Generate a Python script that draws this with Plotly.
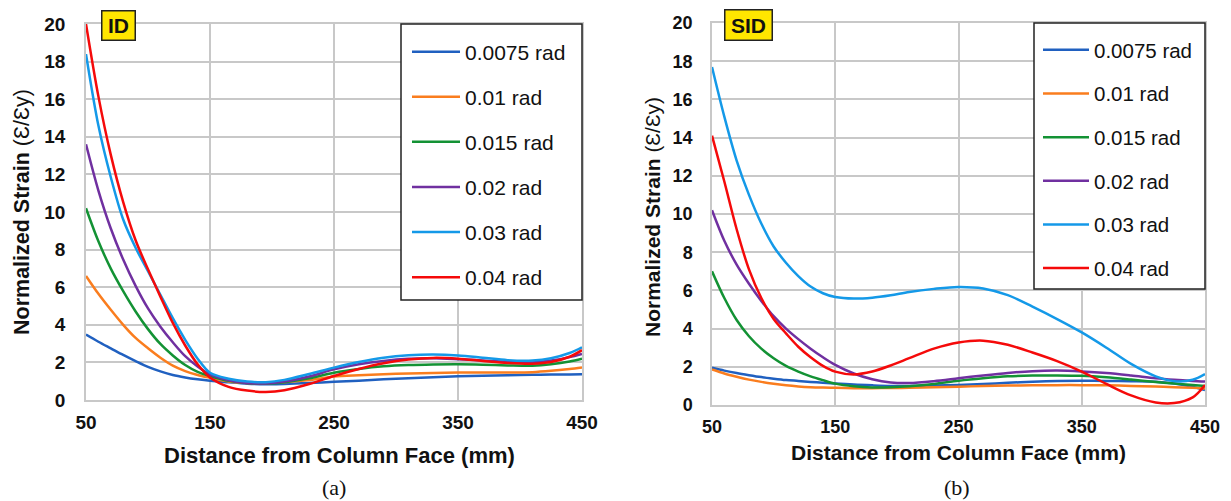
import plotly.graph_objects as go

# ---------------- data ----------------
distance = [50, 60, 70, 80, 90, 100, 110, 120, 130, 140, 150, 165, 180, 195, 210,
            230, 250, 270, 290, 310, 330, 350, 370, 390, 410, 425, 440, 450]

series_names = ["0.0075 rad", "0.01 rad", "0.015 rad", "0.02 rad", "0.03 rad", "0.04 rad"]
series_colors = ["#2060C0", "#FA7D1E", "#139234", "#7030A0", "#1499E8", "#F50A0A"]

# (a) ID
id_0075 = [3.48, 3.1, 2.75, 2.4, 2.07, 1.76, 1.52, 1.33, 1.2, 1.1, 1.02, 0.94, 0.87, 0.84, 0.85,
           0.9, 0.97, 1.03, 1.1, 1.16, 1.21, 1.26, 1.29, 1.32, 1.34, 1.35, 1.36, 1.37]
id_010 = [6.6, 5.65, 4.8, 4.0, 3.3, 2.75, 2.25, 1.83, 1.54, 1.33, 1.18, 0.98, 0.9, 0.9, 0.95,
          1.06, 1.25, 1.32, 1.37, 1.41, 1.44, 1.46, 1.46, 1.46, 1.48, 1.55, 1.65, 1.73]
id_015 = [10.2, 8.44, 6.99, 5.79, 4.71, 3.77, 2.98, 2.37, 1.86, 1.5, 1.28, 1.02, 0.9, 0.88, 0.95,
          1.15, 1.45, 1.65, 1.79, 1.86, 1.89, 1.9, 1.88, 1.84, 1.82, 1.9, 2.05, 2.2]
id_020 = [13.6, 11.14, 9.12, 7.47, 6.07, 4.87, 3.9, 3.07, 2.33, 1.78, 1.36, 1.05, 0.9, 0.88, 0.98,
          1.25, 1.63, 1.9, 2.08, 2.19, 2.22, 2.17, 2.1, 2.02, 2.0, 2.1, 2.28, 2.45]
id_030 = [18.4, 14.6, 11.85, 9.6, 8.1, 6.85, 5.6, 4.35, 3.2, 2.2, 1.45, 1.13, 0.98, 0.95, 1.07,
          1.38, 1.72, 2.02, 2.25, 2.38, 2.42, 2.37, 2.25, 2.12, 2.1, 2.22, 2.5, 2.8]
id_040 = [20.0, 16.15, 13.04, 10.53, 8.5, 6.95, 5.5, 4.1, 2.9, 1.9, 1.2, 0.7, 0.5, 0.43, 0.52,
          0.85, 1.28, 1.65, 1.95, 2.15, 2.24, 2.2, 2.08, 1.97, 1.93, 2.02, 2.3, 2.65]

# (b) SID
sid_0075 = [1.95, 1.8, 1.67, 1.56, 1.46, 1.38, 1.31, 1.26, 1.21, 1.17, 1.13, 1.07, 1.03, 1.0, 1.0,
            1.02, 1.05, 1.1, 1.16, 1.22, 1.26, 1.27, 1.26, 1.25, 1.22, 1.12, 0.95, 0.78]
sid_010 = [1.86, 1.65, 1.48, 1.33, 1.21, 1.11, 1.03, 0.97, 0.93, 0.91, 0.9, 0.88, 0.88, 0.89, 0.9,
           0.93, 0.96, 0.99, 1.02, 1.03, 1.04, 1.04, 1.03, 1.0, 0.97, 0.93, 0.9, 0.87]
sid_015 = [7.0, 5.6, 4.45, 3.6, 2.95, 2.45, 2.05, 1.75, 1.5, 1.3, 1.12, 0.98, 0.92, 0.93, 0.98,
           1.1, 1.27, 1.4, 1.5, 1.54, 1.55, 1.53, 1.45, 1.33, 1.2, 1.12, 1.05, 1.0]
sid_020 = [10.2, 8.6, 7.35, 6.35, 5.45, 4.65, 4.0, 3.45, 2.95, 2.5, 2.1, 1.65, 1.35, 1.18, 1.15,
           1.25, 1.4, 1.55, 1.68, 1.77, 1.8, 1.76, 1.68, 1.55, 1.4, 1.32, 1.26, 1.23]
sid_030 = [17.7, 15.1, 12.8, 11.0, 9.5, 8.3, 7.45, 6.75, 6.2, 5.85, 5.65, 5.57, 5.62, 5.75, 5.92,
           6.08, 6.18, 6.1, 5.75, 5.15, 4.5, 3.8, 3.0, 2.15, 1.5, 1.25, 1.32, 1.62]
sid_040 = [14.1, 11.7, 9.2, 7.1, 5.6, 4.5, 3.75, 3.05, 2.5, 2.05, 1.75, 1.6, 1.75, 2.07, 2.45,
           2.95, 3.27, 3.37, 3.15, 2.75, 2.3, 1.75, 1.1, 0.5, 0.13, 0.1, 0.4, 1.05]

id_series = [id_0075, id_010, id_015, id_020, id_030, id_040]
sid_series = [sid_0075, sid_010, sid_015, sid_020, sid_030, sid_040]

x_ticks = [50, 150, 250, 350, 450]
y_ticks = [0, 2, 4, 6, 8, 10, 12, 14, 16, 18, 20]

# ---------------- figure ----------------
W, H = 1231, 501
fig = go.Figure()

for name, color, ys in zip(series_names, series_colors, id_series):
    fig.add_trace(go.Scatter(x=distance, y=ys, name=name, mode="lines",
                             line=dict(color=color, width=2.5, shape="spline", smoothing=0.9),
                             xaxis="x", yaxis="y", legend="legend", legendgroup="a" + name))
for name, color, ys in zip(series_names, series_colors, sid_series):
    fig.add_trace(go.Scatter(x=distance, y=ys, name=name, mode="lines",
                             line=dict(color=color, width=2.5, shape="spline", smoothing=0.9),
                             xaxis="x2", yaxis="y2", legend="legend2", legendgroup="b" + name))


def px_x(p):
    return p / W


def px_y(p):
    return 1 - p / H


ARIAL = "Liberation Sans, Arial, sans-serif"
base_axis = dict(showgrid=True, gridcolor="#C8C8C8", gridwidth=1.5, zeroline=False,
                 showline=True, linecolor="#C8C8C8", linewidth=1.5, mirror=True,
                 ticks="", automargin=False, fixedrange=True)
font_a = dict(family=ARIAL, size=19, color="#111111")
font_b = dict(family=ARIAL, size=18, color="#111111")

fig.update_layout(
    width=W, height=H,
    margin=dict(l=0, r=0, t=0, b=0),
    paper_bgcolor="white", plot_bgcolor="white",
    showlegend=True,
    xaxis=dict(domain=[px_x(86), px_x(582)], range=[50, 450], tickvals=x_ticks,
               ticktext=["<b>%d</b>" % v for v in x_ticks], anchor="y",
               tickfont=font_a, ticklabelstandoff=4, **base_axis),
    yaxis=dict(domain=[px_y(400), px_y(24)], range=[0, 20], tickvals=y_ticks,
               ticktext=["<b>%d</b>" % v for v in y_ticks], anchor="x",
               tickfont=font_a, ticklabelstandoff=15, **base_axis),
    xaxis2=dict(domain=[px_x(712), px_x(1205)], range=[50, 450], tickvals=x_ticks,
                ticktext=["<b>%d</b>" % v for v in x_ticks], anchor="y2",
                tickfont=font_b, ticklabelstandoff=5, **base_axis),
    yaxis2=dict(domain=[px_y(405), px_y(23)], range=[0, 20], tickvals=y_ticks,
                ticktext=["<b>%d</b>" % v for v in y_ticks], anchor="x2",
                tickfont=font_b, ticklabelstandoff=14, **base_axis),
    legend=dict(x=px_x(407), y=px_y(31.5), xanchor="left", yanchor="top",
                bgcolor="rgba(0,0,0,0)", borderwidth=0,
                font=dict(family=ARIAL, size=21, color="#111111"),
                tracegroupgap=14.8, itemwidth=48),
    legend2=dict(x=px_x(1038), y=px_y(30), xanchor="left", yanchor="top",
                 bgcolor="rgba(0,0,0,0)", borderwidth=0,
                 font=dict(family=ARIAL, size=20.5, color="#111111"),
                 tracegroupgap=14, itemwidth=46),
)

# legend frames
shapes = []
for x0, x1, y0, y1 in [(401, 582, 24, 300), (1034, 1205, 23, 289)]:
    shapes.append(dict(type="rect", xref="paper", yref="paper", layer="above",
                       x0=px_x(x0), x1=px_x(x1), y0=px_y(y1), y1=px_y(y0),
                       fillcolor="white", line=dict(color="#222222", width=1.5)))
fig.update_layout(shapes=shapes)

ann = []
# axis titles
for cx, cy, fs in [(339, 455, 22), (958, 452, 21)]:
    ann.append(dict(x=px_x(cx), y=px_y(cy), xref="paper", yref="paper", showarrow=False,
                    text="<b>Distance from Column Face (mm)</b>",
                    font=dict(family=ARIAL, size=fs, color="#111111"),
                    xanchor="center", yanchor="middle"))
for cx, cy, fs in [(22, 212, 21.5), (652, 217, 21)]:
    ann.append(dict(x=px_x(cx), y=px_y(cy), xref="paper", yref="paper", showarrow=False,
                    text="<b>Normalized Strain</b> (Ɛ/Ɛy)",
                    font=dict(family=ARIAL, size=fs, color="#111111"), textangle=-90,
                    xanchor="center", yanchor="middle"))
# panel tags
for cx, cy, t, w, h in [(118, 25.5, "ID", 30, 26), (748.5, 25, "SID", 44, 27)]:
    ann.append(dict(x=px_x(cx), y=px_y(cy), xref="paper", yref="paper", showarrow=False,
                    text="<b>%s</b>" % t, bgcolor="#FFE600", bordercolor="#222222",
                    borderwidth=1.5, borderpad=1, width=w, height=h,
                    font=dict(family=ARIAL, size=21, color="#111111"),
                    xanchor="center", yanchor="middle"))
# captions
for cx, t in [(333.5, "(a)"), (957, "(b)")]:
    ann.append(dict(x=px_x(cx), y=px_y(487), xref="paper", yref="paper", showarrow=False,
                    text=t, font=dict(family="Liberation Serif, Times New Roman, serif", size=22,
                                      color="#111111"),
                    xanchor="center", yanchor="middle"))
fig.update_layout(annotations=ann)

fig.write_html("out.html", config={"displayModeBar": False},
               post_script="document.body.style.margin='0';document.body.style.overflow='hidden';")
